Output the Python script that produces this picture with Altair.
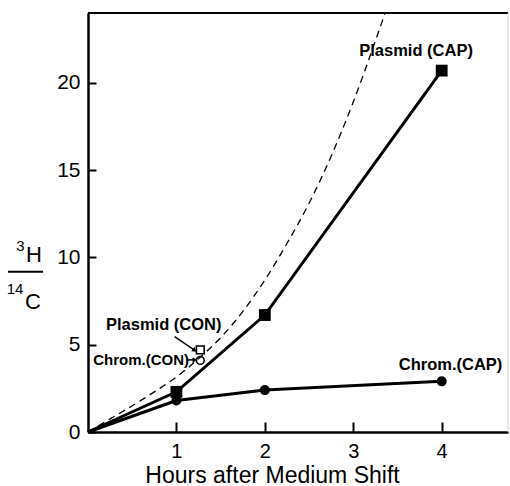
import altair as alt
import pandas as pd

# Pulse-label ratios (3H/14C) after the medium shift
hours = [0, 1, 2, 4]
plasmid_cap = [0, 2.3, 6.7, 20.7]
chrom_cap = [0, 1.8, 2.4, 2.9]

# Control samples (open symbols)
con_hour = 1.27
plasmid_con = 4.7
chrom_con = 4.1

# Dashed reference curve
curve_hours = [0, 0.25, 0.5, 0.75, 1.0, 1.25, 1.5, 1.75, 2.0, 2.25, 2.5, 2.75, 3.0, 3.25, 3.36]
curve_ratio = [0, 0.75, 1.5, 2.3, 3.15, 4.2, 5.4, 6.9, 8.7, 10.8, 13.1, 15.8, 18.9, 22.4, 24.0]

x_ticks = [1, 2, 3, 4]
y_ticks = [0, 5, 10, 15, 20]

FONT = "Liberation Sans"
W, H = 420, 419

x_scale = alt.Scale(domain=[0, 4.75], nice=False, zero=True)
y_scale = alt.Scale(domain=[0, 24], nice=False, zero=True)

x_axis = alt.Axis(values=x_ticks, format="d", tickSize=alt.ExprRef("-10"), labelPadding=19,
                  labelFontSize=20, title="Hours after Medium Shift", titleFontSize=23,
                  titleFontWeight="normal", titleX=184, titleY=50, titleBaseline="alphabetic",
                  titleAlign="center", titleAnchor="start")
y_axis = alt.Axis(values=y_ticks, format="d", tickSize=alt.ExprRef("-8"), labelPadding=16,
                  labelFontSize=21, title=None)


def X(field):
    return alt.X(field, type="quantitative", scale=x_scale, axis=x_axis)


def Y(field):
    return alt.Y(field, type="quantitative", scale=y_scale, axis=y_axis)


cap = pd.DataFrame({"h": hours, "plasmid": plasmid_cap, "chrom": chrom_cap})
markers = cap[cap["h"] > 0]
curve = pd.DataFrame({"h": curve_hours, "r": curve_ratio})
con = pd.DataFrame({"h": [con_hour], "plasmid": [plasmid_con], "chrom": [chrom_con]})
single = pd.DataFrame({"k": [0]})

dashed = alt.Chart(curve).mark_line(color="black", strokeWidth=1.3, strokeDash=[7, 5],
                                    interpolate="monotone").encode(x=X("h"), y=Y("r"))

plasmid_line = alt.Chart(cap).mark_line(color="black", strokeWidth=3).encode(x=X("h"), y=Y("plasmid"))
chrom_line = alt.Chart(cap).mark_line(color="black", strokeWidth=3).encode(x=X("h"), y=Y("chrom"))

plasmid_pts = alt.Chart(markers).mark_point(shape="square", filled=True, color="black", size=140,
                                            opacity=1).encode(x=X("h"), y=Y("plasmid"))
chrom_pts = alt.Chart(markers).mark_point(shape="circle", filled=True, color="black", size=100,
                                          opacity=1).encode(x=X("h"), y=Y("chrom"))

con_sq = alt.Chart(con).mark_point(shape="square", filled=False, color="black", size=60,
                                   strokeWidth=1.6, opacity=1).encode(x=X("h"), y=Y("plasmid"))
con_ci = alt.Chart(con).mark_point(shape="circle", filled=False, color="black", size=60,
                                   strokeWidth=1.6, opacity=1).encode(x=X("h"), y=Y("chrom"))

# Series labels
labels = pd.DataFrame({
    "h": [3.71, 4.1, 0.857],
    "r": [21.8, 3.84, 6.13],
    "t": ["Plasmid (CAP)", "Chrom.(CAP)", "Plasmid (CON)"],
})
label_text = alt.Chart(labels).mark_text(font=FONT, fontSize=16.5, fontWeight="bold", color="black",
                                         align="center", baseline="middle").encode(
    x=X("h"), y=Y("r"), text="t:N")

chrom_con_label = pd.DataFrame({"h": [0.6], "r": [4.13], "t": ["Chrom.(CON)"]})
chrom_con_text = alt.Chart(chrom_con_label).mark_text(font=FONT, fontSize=15, fontWeight="bold",
                                                      color="black", align="center",
                                                      baseline="middle").encode(
    x=X("h"), y=Y("r"), text="t:N")

# Pointer arrows to the control symbols
arrows = pd.DataFrame({"h": [0.98, 1.13], "r": [5.46, 4.13], "h2": [1.2, 1.2], "r2": [4.7, 4.13],
                       "ang": [125, 90]})
arrow_shaft = alt.Chart(arrows).mark_rule(color="black", strokeWidth=1.5).encode(
    x=X("h"), y=Y("r"), x2="h2:Q", y2="r2:Q")
arrow_head = alt.Chart(arrows).mark_point(shape="triangle", filled=True, color="black", size=30,
                                          opacity=1).encode(
    x=X("h2"), y=Y("r2"), angle=alt.Angle("ang:Q", scale=None))

# Frame: top edge and faint right edge
frame_top = alt.Chart(single).mark_rule(color="black", strokeWidth=2).encode(
    x=alt.value(0), x2=alt.value(W), y=alt.value(0))
frame_right = alt.Chart(single).mark_rule(color="#cfcfcf", strokeWidth=1).encode(
    x=alt.value(W), y=alt.value(0), y2=alt.value(H))

# Y-axis title as a fraction 3H / 14C
ytitle_parts = [
    alt.Chart(single).mark_text(text="3", font=FONT, fontSize=15, fontWeight="normal", align="center",
                                color="black").encode(x=alt.value(-67.5), y=alt.value(233)),
    alt.Chart(single).mark_text(text="H", font=FONT, fontSize=22, fontWeight="normal", align="center",
                                color="black").encode(x=alt.value(-54), y=alt.value(242)),
    alt.Chart(single).mark_text(text="14", font=FONT, fontSize=15, fontWeight="normal", align="center",
                                color="black").encode(x=alt.value(-73), y=alt.value(276)),
    alt.Chart(single).mark_text(text="C", font=FONT, fontSize=22, fontWeight="normal", align="center",
                                color="black").encode(x=alt.value(-55), y=alt.value(289)),
    alt.Chart(single).mark_rule(color="black", strokeWidth=2).encode(
        x=alt.value(-80), x2=alt.value(-45), y=alt.value(258.7)),
]

chart = alt.layer(
    dashed, plasmid_line, chrom_line, plasmid_pts, chrom_pts, con_sq, con_ci,
    arrow_shaft, arrow_head, label_text, chrom_con_text, frame_top, frame_right, *ytitle_parts
).properties(
    width=W, height=H,
    autosize=alt.AutoSizeParams(type="none"),
    padding={"left": 88, "top": 13, "right": 2, "bottom": 54},
).configure_view(stroke=None).configure_axis(
    grid=False, domainColor="black", domainWidth=2.5, tickColor="black", tickWidth=2,
    labelFont=FONT, titleFont=FONT, labelColor="black", titleColor="black",
)

chart.save("out.html", embed_options={"renderer": "svg", "actions": False})
